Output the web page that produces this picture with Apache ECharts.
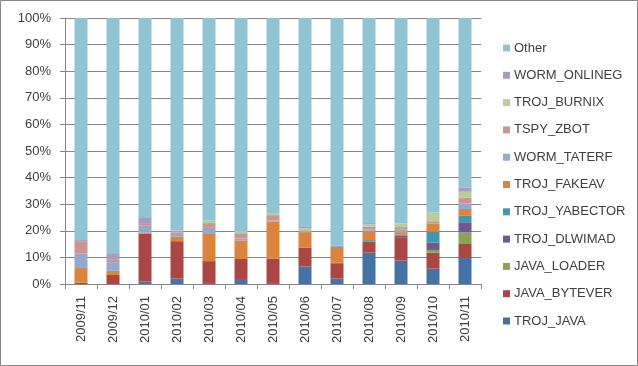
<!DOCTYPE html>
<html>
<head>
<meta charset="utf-8">
<script src="https://cdn.jsdelivr.net/npm/echarts@6/dist/echarts.min.js"></script>
<style>
html,body{margin:0;padding:0;background:#fff;}
#c{width:638px;height:366px;}
</style>
</head>
<body>
<div id="c"></div>
<script>
const categories = ['2009/11','2009/12','2010/01','2010/02','2010/03','2010/04','2010/05','2010/06','2010/07','2010/08','2010/09','2010/10','2010/11'];
const TROJ_JAVA     = [0, 0, 1.0, 2.1, 0.4, 1.9, 0.4, 6.6, 2.1, 11.8, 8.8, 5.8, 9.8];
const JAVA_BYTEVER  = [0.5, 3.4, 17.9, 14.0, 8.2, 7.5, 9.2, 7.0, 5.5, 4.1, 8.8, 6.0, 5.5];
const JAVA_LOADER   = [0, 0, 0, 0, 0, 0, 0, 0, 0, 0, 0, 1.0, 4.1];
const TROJ_DLWIMAD  = [0, 0, 0, 0, 0, 0, 0, 0, 0.4, 0, 0.5, 2.8, 3.8];
const TROJ_YABECTOR = [0, 0, 0, 0, 0, 0, 0, 0, 0, 0.6, 0.4, 4.1, 2.6];
const TROJ_FAKEAV   = [5.5, 1.6, 0.5, 1.8, 10.5, 7.0, 13.8, 5.9, 5.9, 3.5, 1.0, 2.9, 2.4];
const WORM_TATERF   = [5.5, 3.2, 2.7, 1.4, 2.3, 0.7, 0.5, 0, 0.6, 0.6, 0.9, 0.3, 2.1];
const TSPY_ZBOT     = [4.6, 0.9, 0.8, 0.8, 1.5, 2.0, 2.0, 0.3, 0, 1.0, 1.0, 0.7, 2.1];
const TROJ_BURNIX   = [0, 0, 0, 0, 1.0, 0.8, 0.5, 1.1, 0, 0.8, 1.3, 3.3, 2.3];
const WORM_ONLINEG  = [0.4, 2.5, 2.2, 0, 0, 0, 0, 0.8, 0, 0.5, 0, 0, 1.6];
const OTHER         = [83.5, 88.4, 74.9, 79.9, 76.1, 80.1, 73.6, 78.3, 85.5, 77.1, 77.3, 73.1, 63.7];
const yTicks = [0,10,20,30,40,50,60,70,80,90,100];

const seriesDefs = [
  ['TROJ_JAVA', TROJ_JAVA, '#4572A7'],
  ['JAVA_BYTEVER', JAVA_BYTEVER, '#AA4643'],
  ['JAVA_LOADER', JAVA_LOADER, '#89A54E'],
  ['TROJ_DLWIMAD', TROJ_DLWIMAD, '#71588F'],
  ['TROJ_YABECTOR', TROJ_YABECTOR, '#4198AF'],
  ['TROJ_FAKEAV', TROJ_FAKEAV, '#DB843D'],
  ['WORM_TATERF', WORM_TATERF, '#93A9CF'],
  ['TSPY_ZBOT', TSPY_ZBOT, '#D19392'],
  ['TROJ_BURNIX', TROJ_BURNIX, '#B9CD96'],
  ['WORM_ONLINEG', WORM_ONLINEG, '#A99BBD'],
  ['Other', OTHER, '#91C3D5']
];

const font = 'Liberation Sans';
const txt = '#404040';
const gridColor = '#868686';

const chart = echarts.init(document.getElementById('c'));
chart.setOption({
  animation: false,
  backgroundColor: '#fff',
  textStyle: {fontFamily: font},
  grid: {left: 65, top: 18, right: 157, bottom: 82},
  legend: {
    orient: 'vertical',
    left: 498,
    top: 36,
    itemWidth: 7,
    itemHeight: 7,
    itemGap: 13.3,
    icon: 'rect',
    data: seriesDefs.map(d => d[0]).reverse(),
    textStyle: {fontFamily: font, fontSize: 13, color: txt, lineHeight: 14, padding: [0,0,0,-1]}
  },
  xAxis: {
    type: 'category',
    data: categories,
    axisLine: {lineStyle: {color: gridColor}},
    axisTick: {show: true, length: 5, lineStyle: {color: gridColor}},
    axisLabel: {rotate: 90, margin: 12, fontSize: 13, color: txt, fontFamily: font}
  },
  yAxis: {
    type: 'value',
    min: yTicks[0],
    max: yTicks[yTicks.length - 1],
    interval: 10,
    axisLine: {show: true, lineStyle: {color: gridColor}},
    axisTick: {show: true, length: 5, lineStyle: {color: gridColor}},
    splitLine: {lineStyle: {color: gridColor}},
    axisLabel: {formatter: '{value}%', margin: 14, fontSize: 13, color: txt, fontFamily: font}
  },
  graphic: [{
    type: 'rect',
    shape: {x: 0.5, y: 0.5, width: 637, height: 365},
    style: {fill: 'none', stroke: '#868686', lineWidth: 1},
    silent: true
  }],
  series: seriesDefs.map(d => ({
    name: d[0],
    type: 'bar',
    stack: 'total',
    barWidth: 13,
    data: d[1],
    itemStyle: {color: d[2]}
  }))
});
</script>
</body>
</html>
